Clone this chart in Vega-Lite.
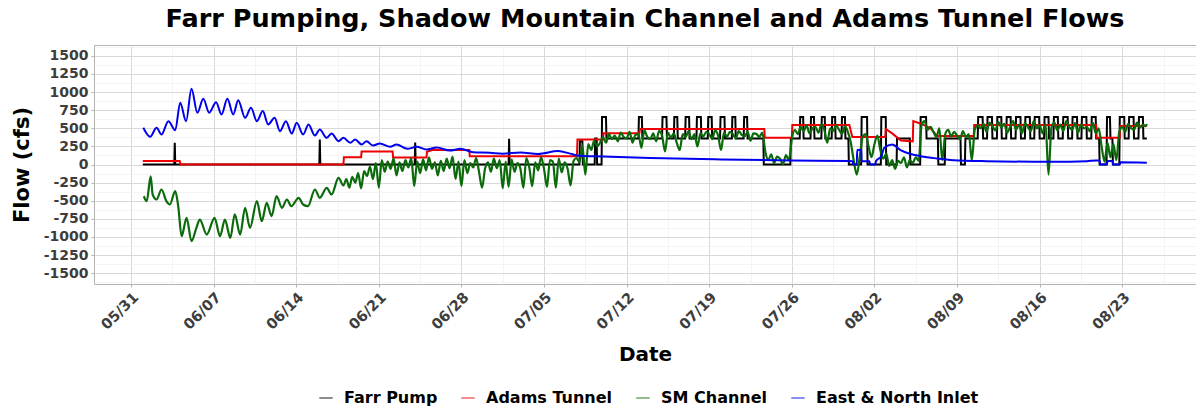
{
"$schema": "https://vega.github.io/schema/vega-lite/v6.json",
"autosize": {"type": "none"},
"width": 1102, "height": 239,
"padding": {"left": 94, "top": 45, "right": 0, "bottom": 126},
"background": "white",
"title": {"text": "Farr Pumping, Shadow Mountain Channel and Adams Tunnel Flows", "font": "DejaVu Sans", "fontSize": 25.5, "fontWeight": "bold", "color": "black", "anchor": "middle", "offset": 7},
"config": {"view": {"stroke": "#b3b3b3", "strokeWidth": 1}},
"encoding": {
 "x": {"field": "t", "type": "temporal",
  "scale": {"type": "utc", "domain": [{"year":1900,"month":5,"date":27,"hours":20,"minutes":44,"utc":true},{"year":1900,"month":8,"date":29,"hours":6,"utc":true}]},
  "axis": {"title": "Date", "domain": false, "labelOverlap": false, "labelFlush": false,
   "values": [{"year":1900,"month":5,"date":31,"utc":true},{"year":1900,"month":6,"date":7,"utc":true},{"year":1900,"month":6,"date":14,"utc":true},{"year":1900,"month":6,"date":21,"utc":true},{"year":1900,"month":6,"date":28,"utc":true},{"year":1900,"month":7,"date":5,"utc":true},{"year":1900,"month":7,"date":12,"utc":true},{"year":1900,"month":7,"date":19,"utc":true},{"year":1900,"month":7,"date":26,"utc":true},{"year":1900,"month":8,"date":2,"utc":true},{"year":1900,"month":8,"date":9,"utc":true},{"year":1900,"month":8,"date":16,"utc":true},{"year":1900,"month":8,"date":23,"utc":true},
    {"year":1900,"month":6,"date":3,"hours":12,"utc":true},{"year":1900,"month":6,"date":10,"hours":12,"utc":true},{"year":1900,"month":6,"date":17,"hours":12,"utc":true},{"year":1900,"month":6,"date":24,"hours":12,"utc":true},{"year":1900,"month":7,"date":1,"hours":12,"utc":true},{"year":1900,"month":7,"date":8,"hours":12,"utc":true},{"year":1900,"month":7,"date":15,"hours":12,"utc":true},{"year":1900,"month":7,"date":22,"hours":12,"utc":true},{"year":1900,"month":7,"date":29,"hours":12,"utc":true},{"year":1900,"month":8,"date":5,"hours":12,"utc":true},{"year":1900,"month":8,"date":12,"hours":12,"utc":true},{"year":1900,"month":8,"date":19,"hours":12,"utc":true},{"year":1900,"month":8,"date":26,"hours":12,"utc":true}],
   "labelExpr": "utchours(datum.value) == 12 ? '' : utcFormat(datum.value, '%m/%d')",
   "labelAngle": -45, "labelAlign": "right", "labelBaseline": "top", "labelPadding": 3,
   "labelFont": "DejaVu Sans", "labelFontWeight": "bold", "labelFontSize": 14.5, "labelColor": "#3d3d3d",
   "gridColor": {"condition": {"test": "utchours(datum.value) == 12", "value": "#ececec"}, "value": "#d9d9d9"},
   "gridWidth": {"condition": {"test": "utchours(datum.value) == 12", "value": 0.6}, "value": 1},
   "tickColor": {"condition": {"test": "utchours(datum.value) == 12", "value": "transparent"}, "value": "#b3b3b3"},
   "tickSize": 3,
   "titleFont": "DejaVu Sans", "titleFontSize": 20, "titleFontWeight": "bold", "titleColor": "black",
   "titleX": 551, "titleY": 76, "titleBaseline": "alphabetic", "titleAlign": "center"}},
 "y": {"field": "v", "type": "quantitative",
  "scale": {"domain": [-1650, 1650], "nice": false, "zero": false},
  "axis": {"title": "Flow (cfs)", "domain": false, "labelOverlap": false, "labelFlush": false,
   "values": [-1625,-1500,-1375,-1250,-1125,-1000,-875,-750,-625,-500,-375,-250,-125,0,125,250,375,500,625,750,875,1000,1125,1250,1375,1500,1625],
   "labelExpr": "(datum.value % 250 == 0 && abs(datum.value) <= 1500) ? '' + datum.value : ''",
   "labelFont": "DejaVu Sans", "labelFontWeight": "bold", "labelFontSize": 14, "labelColor": "#3d3d3d", "labelPadding": 3,
   "gridColor": {"condition": {"test": "datum.value % 250 != 0", "value": "#ececec"}, "value": "#d9d9d9"},
   "gridWidth": {"condition": {"test": "datum.value % 250 != 0", "value": 0.6}, "value": 1},
   "tickColor": {"condition": {"test": "datum.value % 250 != 0", "value": "transparent"}, "value": "#b3b3b3"},
   "tickSize": 3,
   "titleFont": "DejaVu Sans", "titleFontSize": 21, "titleFontWeight": "bold", "titleColor": "black",
   "titleAngle": 270, "titleX": -72, "titleY": 119.5, "titleAlign": "center", "titleBaseline": "middle"}},
 "color": {"scale": {"domain": ["Farr Pump", "Adams Tunnel", "SM Channel", "East & North Inlet"], "range": ["#000000", "#ee0000", "#0b6b0b", "#0000ee"]},
  "legend": {"orient": "none", "legendX": 224, "legendY": 345, "direction": "horizontal", "title": null,
   "symbolType": "stroke", "symbolStrokeWidth": 1.5, "symbolSize": 180, "symbolOpacity": 0.6,
   "labelFont": "DejaVu Sans", "labelFontSize": 16, "labelFontWeight": "bold", "labelColor": "black", "labelLimit": 0,
   "labelOffset": 10, "columnPadding": 20}}
},
"layer": [
{"data": {"format": {"parse": {"t": "utc:'%m-%d %H'"}}, "values": [
{"t":"06-01 00","v":0},{"t":"06-03 16","v":0},{"t":"06-03 17","v":300},{"t":"06-03 18","v":0},{"t":"06-15 23","v":0},{"t":"06-16 00","v":345},{"t":"06-16 01","v":0},{"t":"06-24 01","v":0},{"t":"06-24 02","v":305},{"t":"06-24 03","v":0},{"t":"07-02 00","v":0},{"t":"07-02 01","v":355},{"t":"07-02 02","v":0},{"t":"07-08 00","v":0},{"t":"07-08 01","v":320},{"t":"07-08 06","v":320},{"t":"07-08 07","v":0},{"t":"07-09 07","v":0},{"t":"07-09 08","v":360},{"t":"07-09 11","v":360},{"t":"07-09 12","v":0},{"t":"07-09 21","v":0},{"t":"07-09 22","v":655},{"t":"07-10 06","v":655},{"t":"07-10 07","v":360},{"t":"07-13 00","v":360},{"t":"07-13 01","v":655},{"t":"07-13 07","v":655},{"t":"07-13 08","v":360},
{"t":"07-15 00","v":360},{"t":"07-15 01","v":655},{"t":"07-15 09","v":655},{"t":"07-15 10","v":360},
{"t":"07-16 00","v":360},{"t":"07-16 01","v":655},{"t":"07-16 07","v":655},{"t":"07-16 08","v":360},
{"t":"07-16 23","v":360},{"t":"07-17 00","v":655},{"t":"07-17 07","v":655},{"t":"07-17 08","v":360},
{"t":"07-17 22","v":360},{"t":"07-17 23","v":655},{"t":"07-18 07","v":655},{"t":"07-18 08","v":360},
{"t":"07-18 21","v":360},{"t":"07-18 22","v":655},{"t":"07-19 05","v":655},{"t":"07-19 06","v":360},
{"t":"07-19 22","v":360},{"t":"07-19 23","v":655},{"t":"07-20 07","v":655},{"t":"07-20 08","v":360},
{"t":"07-20 22","v":360},{"t":"07-20 23","v":655},{"t":"07-21 05","v":655},{"t":"07-21 06","v":360},
{"t":"07-21 22","v":360},{"t":"07-21 23","v":655},{"t":"07-22 05","v":655},{"t":"07-22 06","v":360},
{"t":"07-23 14","v":360},{"t":"07-23 15","v":0},{"t":"07-25 21","v":0},{"t":"07-25 22","v":360},
{"t":"07-26 16","v":360},{"t":"07-26 17","v":655},{"t":"07-26 23","v":655},{"t":"07-27 00","v":360},
{"t":"07-27 14","v":360},{"t":"07-27 15","v":655},{"t":"07-27 21","v":655},{"t":"07-27 22","v":360},
{"t":"07-28 12","v":360},{"t":"07-28 13","v":655},{"t":"07-28 19","v":655},{"t":"07-28 20","v":360},
{"t":"07-29 09","v":360},{"t":"07-29 10","v":655},{"t":"07-29 16","v":655},{"t":"07-29 17","v":360},
{"t":"07-30 05","v":360},{"t":"07-30 06","v":655},{"t":"07-30 12","v":655},{"t":"07-30 13","v":360},
{"t":"07-30 19","v":360},{"t":"07-30 20","v":0},
{"t":"07-31 21","v":0},{"t":"07-31 22","v":655},{"t":"08-01 09","v":655},{"t":"08-01 10","v":0},
{"t":"08-02 13","v":0},{"t":"08-02 14","v":655},{"t":"08-02 23","v":655},{"t":"08-03 00","v":0},
{"t":"08-03 21","v":0},{"t":"08-03 22","v":360},{"t":"08-05 00","v":360},{"t":"08-05 01","v":0},
{"t":"08-05 21","v":0},{"t":"08-05 22","v":655},{"t":"08-06 09","v":655},{"t":"08-06 10","v":360},
{"t":"08-07 09","v":360},{"t":"08-07 10","v":0},{"t":"08-07 23","v":0},{"t":"08-08 00","v":360},
{"t":"08-09 07","v":360},{"t":"08-09 08","v":0},{"t":"08-09 16","v":0},{"t":"08-09 17","v":360},
{"t":"08-10 18","v":360},{"t":"08-10 19","v":655},{"t":"08-11 04","v":655},{"t":"08-11 05","v":360},
{"t":"08-11 13","v":360},{"t":"08-11 14","v":655},{"t":"08-11 23","v":655},{"t":"08-12 00","v":360},
{"t":"08-12 09","v":360},{"t":"08-12 10","v":655},{"t":"08-12 18","v":655},{"t":"08-12 19","v":360},
{"t":"08-13 04","v":360},{"t":"08-13 05","v":655},{"t":"08-13 13","v":655},{"t":"08-13 14","v":360},
{"t":"08-13 23","v":360},{"t":"08-14 00","v":655},{"t":"08-14 09","v":655},{"t":"08-14 10","v":360},
{"t":"08-14 18","v":360},{"t":"08-14 19","v":655},{"t":"08-15 04","v":655},{"t":"08-15 05","v":360},
{"t":"08-15 13","v":360},{"t":"08-15 14","v":655},{"t":"08-15 23","v":655},{"t":"08-16 00","v":360},
{"t":"08-16 09","v":360},{"t":"08-16 10","v":655},{"t":"08-16 18","v":655},{"t":"08-16 19","v":360},
{"t":"08-17 04","v":360},{"t":"08-17 05","v":655},{"t":"08-17 13","v":655},{"t":"08-17 14","v":360},
{"t":"08-17 23","v":360},{"t":"08-18 00","v":655},{"t":"08-18 09","v":655},{"t":"08-18 10","v":360},
{"t":"08-18 18","v":360},{"t":"08-18 19","v":655},{"t":"08-19 04","v":655},{"t":"08-19 05","v":360},
{"t":"08-19 13","v":360},{"t":"08-19 14","v":655},{"t":"08-19 23","v":655},{"t":"08-20 00","v":360},
{"t":"08-20 09","v":360},{"t":"08-20 10","v":655},{"t":"08-20 18","v":655},{"t":"08-20 19","v":360},
{"t":"08-21 01","v":360},{"t":"08-21 02","v":0},{"t":"08-21 16","v":0},{"t":"08-21 17","v":655},{"t":"08-21 23","v":655},{"t":"08-22 00","v":360},
{"t":"08-22 04","v":360},{"t":"08-22 05","v":0},{"t":"08-22 18","v":0},{"t":"08-22 19","v":655},{"t":"08-23 04","v":655},{"t":"08-23 05","v":360},
{"t":"08-23 13","v":360},{"t":"08-23 14","v":655},{"t":"08-23 23","v":655},{"t":"08-24 00","v":360},
{"t":"08-24 09","v":360},{"t":"08-24 10","v":655},{"t":"08-24 18","v":655},{"t":"08-24 19","v":360},
{"t":"08-25 02","v":360}
]}, "mark": {"type": "line", "strokeWidth": 2}, "encoding": {"color": {"datum": "Farr Pump"}}},
{"data": {"format": {"parse": {"t": "utc:'%m-%d %H'"}}, "values": [
{"t":"06-01 00","v":50},{"t":"06-04 03","v":50},{"t":"06-04 05","v":0},{"t":"06-18 00","v":0},{"t":"06-18 01","v":100},{"t":"06-19 12","v":100},{"t":"06-19 13","v":180},{"t":"06-22 04","v":180},{"t":"06-22 05","v":95},{"t":"06-25 01","v":95},{"t":"06-25 02","v":175},{"t":"06-25 12","v":200},{"t":"06-28 16","v":200},{"t":"06-28 17","v":115},{"t":"07-07 19","v":115},{"t":"07-07 20","v":345},{"t":"07-10 00","v":345},{"t":"07-10 01","v":430},{"t":"07-13 02","v":430},{"t":"07-13 03","v":490},{"t":"07-23 16","v":490},{"t":"07-23 17","v":370},{"t":"07-26 00","v":370},{"t":"07-26 01","v":545},{"t":"07-30 21","v":545},{"t":"07-31 03","v":380},{"t":"08-02 22","v":380},{"t":"08-02 23","v":490},{"t":"08-03 12","v":430},{"t":"08-04 06","v":330},{"t":"08-05 06","v":320},{"t":"08-05 07","v":600},{"t":"08-06 00","v":560},{"t":"08-06 18","v":500},{"t":"08-07 05","v":415},{"t":"08-07 06","v":395},{"t":"08-10 10","v":395},{"t":"08-10 11","v":545},{"t":"08-20 19","v":545},{"t":"08-20 20","v":370},{"t":"08-22 19","v":370},{"t":"08-22 20","v":530},{"t":"08-25 02","v":530}
]}, "mark": {"type": "line", "strokeWidth": 2}, "encoding": {"color": {"datum": "Adams Tunnel"}}},
{"data": {"format": {"parse": {"t": "utc:'%m-%d %H'"}}, "values": [
{"t":"06-01 02","v":-438},{"t":"06-01 08","v":-507},{"t":"06-01 16","v":-162},{"t":"06-01 20","v":-414},{"t":"06-02 04","v":-483},{"t":"06-02 14","v":-345},{"t":"06-03 00","v":-507},{"t":"06-03 07","v":-552},{"t":"06-03 18","v":-368},{"t":"06-04 00","v":-575},{"t":"06-04 07","v":-990},{"t":"06-04 17","v":-736},{"t":"06-05 03","v":-1058},{"t":"06-05 13","v":-874},{"t":"06-05 20","v":-760},{"t":"06-06 10","v":-967},{"t":"06-07 02","v":-736},{"t":"06-07 13","v":-990},{"t":"06-07 23","v":-760},{"t":"06-08 10","v":-1013},{"t":"06-08 19","v":-690},{"t":"06-09 06","v":-967},{"t":"06-09 16","v":-598},{"t":"06-10 02","v":-874},{"t":"06-10 16","v":-507},{"t":"06-11 02","v":-783},{"t":"06-11 12","v":-529},{"t":"06-11 22","v":-713},{"t":"06-12 08","v":-438},{"t":"06-12 19","v":-598},{"t":"06-13 05","v":-483},{"t":"06-13 14","v":-575},{"t":"06-14 05","v":-460},{"t":"06-14 14","v":-552},{"t":"06-15 00","v":-575},{"t":"06-15 14","v":-345},{"t":"06-16 00","v":-460},{"t":"06-16 14","v":-322},{"t":"06-17 00","v":-414},{"t":"06-17 14","v":-184},
{"t":"06-18 00","v":-290},{"t":"06-18 06","v":-200},{"t":"06-18 12","v":-320},{"t":"06-18 18","v":-170},
{"t":"06-19 00","v":-250},{"t":"06-19 06","v":-120},{"t":"06-19 12","v":-330},{"t":"06-19 18","v":-90},
{"t":"06-20 00","v":-160},{"t":"06-20 06","v":-30},{"t":"06-20 12","v":-200},{"t":"06-20 18","v":20},
{"t":"06-21 00","v":-320},{"t":"06-21 06","v":60},{"t":"06-21 12","v":-100},{"t":"06-21 18","v":40},
{"t":"06-22 00","v":-60},{"t":"06-22 06","v":80},{"t":"06-22 12","v":-150},{"t":"06-22 18","v":30},
{"t":"06-23 00","v":-90},{"t":"06-23 06","v":60},{"t":"06-23 12","v":-40},{"t":"06-23 18","v":90},
{"t":"06-24 00","v":-300},{"t":"06-24 06","v":40},{"t":"06-24 12","v":-120},{"t":"06-24 18","v":70},
{"t":"06-25 00","v":-80},{"t":"06-25 06","v":100},{"t":"06-25 12","v":-60},{"t":"06-25 18","v":30},
{"t":"06-26 00","v":-150},{"t":"06-26 06","v":50},{"t":"06-26 12","v":-90},{"t":"06-26 18","v":80},
{"t":"06-27 00","v":-50},{"t":"06-27 06","v":110},{"t":"06-27 12","v":-200},{"t":"06-27 18","v":40},
{"t":"06-28 00","v":-300},{"t":"06-28 06","v":60},{"t":"06-28 12","v":-120},{"t":"06-28 18","v":20},
{"t":"06-29 00","v":-40},{"t":"06-29 06","v":90},{"t":"06-29 12","v":-110},{"t":"06-29 18","v":-320},
{"t":"06-30 00","v":-60},{"t":"06-30 06","v":30},{"t":"06-30 12","v":-100},{"t":"06-30 18","v":80},
{"t":"07-01 00","v":-50},{"t":"07-01 06","v":60},{"t":"07-01 12","v":-330},{"t":"07-01 18","v":40},
{"t":"07-02 00","v":-310},{"t":"07-02 06","v":70},{"t":"07-02 12","v":-100},{"t":"07-02 18","v":20},
{"t":"07-03 00","v":-60},{"t":"07-03 06","v":-320},{"t":"07-03 12","v":90},{"t":"07-03 18","v":-40},
{"t":"07-04 00","v":-300},{"t":"07-04 06","v":30},{"t":"07-04 12","v":-80},{"t":"07-04 18","v":100},
{"t":"07-05 00","v":-60},{"t":"07-05 06","v":-310},{"t":"07-05 12","v":60},{"t":"07-05 18","v":40},
{"t":"07-06 00","v":-320},{"t":"07-06 06","v":80},{"t":"07-06 12","v":-110},{"t":"07-06 18","v":30},
{"t":"07-07 00","v":-60},{"t":"07-07 06","v":-290},{"t":"07-07 12","v":50},{"t":"07-07 18","v":90},
{"t":"07-08 00","v":30},{"t":"07-08 06","v":260},{"t":"07-08 12","v":-140},{"t":"07-08 18","v":280},
{"t":"07-09 00","v":200},{"t":"07-09 06","v":330},{"t":"07-09 12","v":250},{"t":"07-09 18","v":300},
{"t":"07-10 00","v":380},{"t":"07-10 06","v":300},{"t":"07-10 12","v":420},{"t":"07-10 18","v":350},
{"t":"07-11 00","v":400},{"t":"07-11 06","v":320},{"t":"07-11 12","v":440},{"t":"07-11 18","v":380},
{"t":"07-12 00","v":360},{"t":"07-12 06","v":450},{"t":"07-12 12","v":300},{"t":"07-12 18","v":410},
{"t":"07-13 00","v":420},{"t":"07-13 06","v":230},{"t":"07-13 12","v":470},{"t":"07-13 18","v":380},
{"t":"07-14 00","v":350},{"t":"07-14 06","v":430},{"t":"07-14 12","v":320},{"t":"07-14 18","v":460},
{"t":"07-15 00","v":400},{"t":"07-15 06","v":180},{"t":"07-15 12","v":440},{"t":"07-15 18","v":370},
{"t":"07-16 00","v":430},{"t":"07-16 06","v":300},{"t":"07-16 12","v":200},{"t":"07-16 18","v":420},
{"t":"07-17 00","v":380},{"t":"07-17 06","v":460},{"t":"07-17 12","v":350},{"t":"07-17 18","v":420},
{"t":"07-18 00","v":250},{"t":"07-18 06","v":430},{"t":"07-18 12","v":390},{"t":"07-18 18","v":450},
{"t":"07-19 00","v":420},{"t":"07-19 06","v":350},{"t":"07-19 12","v":470},{"t":"07-19 18","v":400},
{"t":"07-20 00","v":200},{"t":"07-20 06","v":440},{"t":"07-20 12","v":380},{"t":"07-20 18","v":450},
{"t":"07-21 00","v":420},{"t":"07-21 06","v":360},{"t":"07-21 12","v":460},{"t":"07-21 18","v":410},
{"t":"07-22 00","v":390},{"t":"07-22 06","v":450},{"t":"07-22 12","v":330},{"t":"07-22 18","v":430},
{"t":"07-23 00","v":420},{"t":"07-23 06","v":380},{"t":"07-23 12","v":440},{"t":"07-23 18","v":180},
{"t":"07-24 00","v":60},{"t":"07-24 06","v":140},{"t":"07-24 12","v":20},{"t":"07-24 18","v":110},
{"t":"07-25 00","v":80},{"t":"07-25 06","v":0},{"t":"07-25 12","v":130},{"t":"07-25 18","v":60},
{"t":"07-26 00","v":350},{"t":"07-26 06","v":480},{"t":"07-26 12","v":420},{"t":"07-26 18","v":520},
{"t":"07-27 00","v":460},{"t":"07-27 06","v":540},{"t":"07-27 12","v":430},{"t":"07-27 18","v":500},
{"t":"07-28 00","v":520},{"t":"07-28 06","v":440},{"t":"07-28 12","v":550},{"t":"07-28 18","v":480},
{"t":"07-29 00","v":300},{"t":"07-29 06","v":500},{"t":"07-29 12","v":460},{"t":"07-29 18","v":540},
{"t":"07-30 00","v":480},{"t":"07-30 06","v":420},{"t":"07-30 12","v":530},{"t":"07-30 18","v":450},
{"t":"07-31 00","v":300},{"t":"07-31 06","v":50},{"t":"07-31 12","v":-140},{"t":"07-31 18","v":100},
{"t":"08-01 00","v":380},{"t":"08-01 06","v":420},{"t":"08-01 12","v":250},{"t":"08-01 18","v":100},
{"t":"08-02 00","v":280},{"t":"08-02 06","v":400},{"t":"08-02 12","v":200},{"t":"08-02 18","v":80},
{"t":"08-03 00","v":150},{"t":"08-03 06","v":-20},{"t":"08-03 12","v":60},{"t":"08-03 18","v":-60},
{"t":"08-04 00","v":50},{"t":"08-04 06","v":20},{"t":"08-04 12","v":100},{"t":"08-04 18","v":-40},
{"t":"08-05 00","v":60},{"t":"08-05 06","v":20},{"t":"08-05 12","v":100},{"t":"08-05 18","v":50},
{"t":"08-06 00","v":550},{"t":"08-06 06","v":600},{"t":"08-06 12","v":480},{"t":"08-06 18","v":520},
{"t":"08-07 00","v":450},{"t":"08-07 06","v":380},{"t":"08-07 12","v":500},{"t":"08-07 18","v":60},
{"t":"08-08 00","v":420},{"t":"08-08 06","v":480},{"t":"08-08 12","v":390},{"t":"08-08 18","v":450},
{"t":"08-09 00","v":400},{"t":"08-09 06","v":350},{"t":"08-09 12","v":460},{"t":"08-09 18","v":380},
{"t":"08-10 00","v":420},{"t":"08-10 06","v":60},{"t":"08-10 12","v":480},{"t":"08-10 18","v":540},
{"t":"08-11 00","v":500},{"t":"08-11 06","v":560},{"t":"08-11 12","v":450},{"t":"08-11 18","v":580},
{"t":"08-12 00","v":530},{"t":"08-12 06","v":470},{"t":"08-12 12","v":590},{"t":"08-12 18","v":510},
{"t":"08-13 00","v":560},{"t":"08-13 06","v":440},{"t":"08-13 12","v":520},{"t":"08-13 18","v":600},
{"t":"08-14 00","v":480},{"t":"08-14 06","v":550},{"t":"08-14 12","v":430},{"t":"08-14 18","v":570},
{"t":"08-15 00","v":520},{"t":"08-15 06","v":460},{"t":"08-15 12","v":600},{"t":"08-15 18","v":500},
{"t":"08-16 00","v":540},{"t":"08-16 06","v":430},{"t":"08-16 12","v":560},{"t":"08-16 18","v":-140},
{"t":"08-17 00","v":510},{"t":"08-17 06","v":580},{"t":"08-17 12","v":470},{"t":"08-17 18","v":550},
{"t":"08-18 00","v":460},{"t":"08-18 06","v":600},{"t":"08-18 12","v":520},{"t":"08-18 18","v":480},
{"t":"08-19 00","v":570},{"t":"08-19 06","v":440},{"t":"08-19 12","v":550},{"t":"08-19 18","v":500},
{"t":"08-20 00","v":520},{"t":"08-20 06","v":460},{"t":"08-20 12","v":580},{"t":"08-20 18","v":430},
{"t":"08-21 00","v":500},{"t":"08-21 06","v":250},{"t":"08-21 12","v":40},{"t":"08-21 18","v":300},
{"t":"08-22 00","v":100},{"t":"08-22 06","v":280},{"t":"08-22 12","v":60},{"t":"08-22 18","v":450},
{"t":"08-23 00","v":520},{"t":"08-23 06","v":450},{"t":"08-23 12","v":560},{"t":"08-23 18","v":500},
{"t":"08-24 00","v":480},{"t":"08-24 06","v":580},{"t":"08-24 12","v":510},{"t":"08-24 18","v":550},
{"t":"08-25 00","v":530},{"t":"08-25 02","v":560}
]}, "mark": {"type": "line", "strokeWidth": 2.2, "interpolate": "monotone"}, "encoding": {"color": {"datum": "SM Channel"}}},
{"data": {"format": {"parse": {"t": "utc:'%m-%d %H'"}}, "values": [
{"t":"06-01 01","v":507},{"t":"06-01 15","v":383},{"t":"06-02 04","v":507},{"t":"06-02 14","v":414},{"t":"06-03 04","v":598},{"t":"06-03 18","v":474},{"t":"06-04 04","v":852},{"t":"06-04 16","v":598},{"t":"06-05 03","v":1045},{"t":"06-05 15","v":714},{"t":"06-06 03","v":907},{"t":"06-06 15","v":714},{"t":"06-07 05","v":861},{"t":"06-07 16","v":691},{"t":"06-08 04","v":907},{"t":"06-08 16","v":691},{"t":"06-09 02","v":888},{"t":"06-09 16","v":645},{"t":"06-10 04","v":783},{"t":"06-10 16","v":598},{"t":"06-11 04","v":737},{"t":"06-11 15","v":552},{"t":"06-12 04","v":645},{"t":"06-12 15","v":460},{"t":"06-13 03","v":598},{"t":"06-13 15","v":428},{"t":"06-14 01","v":576},{"t":"06-14 14","v":414},{"t":"06-15 01","v":552},{"t":"06-15 14","v":400},{"t":"06-16 00","v":483},{"t":"06-16 14","v":368},{"t":"06-17 00","v":428},{"t":"06-17 14","v":322},{"t":"06-18 00","v":368},{"t":"06-18 14","v":300},{"t":"06-19 00","v":345},{"t":"06-19 13","v":276},{"t":"06-19 23","v":322},{"t":"06-20 12","v":262},{"t":"06-21 02","v":290},{"t":"06-21 23","v":244},{"t":"06-22 12","v":276},{"t":"06-23 10","v":216},{"t":"06-24 05","v":244},{"t":"06-25 01","v":207},{"t":"06-25 22","v":235},{"t":"06-27 00","v":193},{"t":"06-27 22","v":216},{"t":"06-29 00","v":170},{"t":"06-30 10","v":162},{"t":"07-01 12","v":150},{"t":"07-03 00","v":165},{"t":"07-04 12","v":145},{"t":"07-06 05","v":185},{"t":"07-07 05","v":150},{"t":"07-08 00","v":120},{"t":"07-10 00","v":110},{"t":"07-14 00","v":90},{"t":"07-20 00","v":70},{"t":"07-26 00","v":55},{"t":"07-30 20","v":48},{"t":"07-31 04","v":45},{"t":"07-31 05","v":0},{"t":"07-31 12","v":0},{"t":"07-31 13","v":200},{"t":"07-31 21","v":200},{"t":"07-31 22","v":45},{"t":"08-01 14","v":45},{"t":"08-01 15","v":0},{"t":"08-02 02","v":0},{"t":"08-02 03","v":45},{"t":"08-02 14","v":115},{"t":"08-02 20","v":230},{"t":"08-03 12","v":276},{"t":"08-04 05","v":200},{"t":"08-05 00","v":148},{"t":"08-05 22","v":115},{"t":"08-07 07","v":83},{"t":"08-08 17","v":60},{"t":"08-11 12","v":46},{"t":"08-17 02","v":37},{"t":"08-20 00","v":46},{"t":"08-20 19","v":55},{"t":"08-21 02","v":55},{"t":"08-21 03","v":0},{"t":"08-21 17","v":0},{"t":"08-21 18","v":50},{"t":"08-22 04","v":50},{"t":"08-22 05","v":0},{"t":"08-22 19","v":0},{"t":"08-22 20","v":30},{"t":"08-25 02","v":25}
]}, "mark": {"type": "line", "strokeWidth": 2, "interpolate": "monotone"}, "encoding": {"color": {"datum": "East & North Inlet"}}}
]
}
